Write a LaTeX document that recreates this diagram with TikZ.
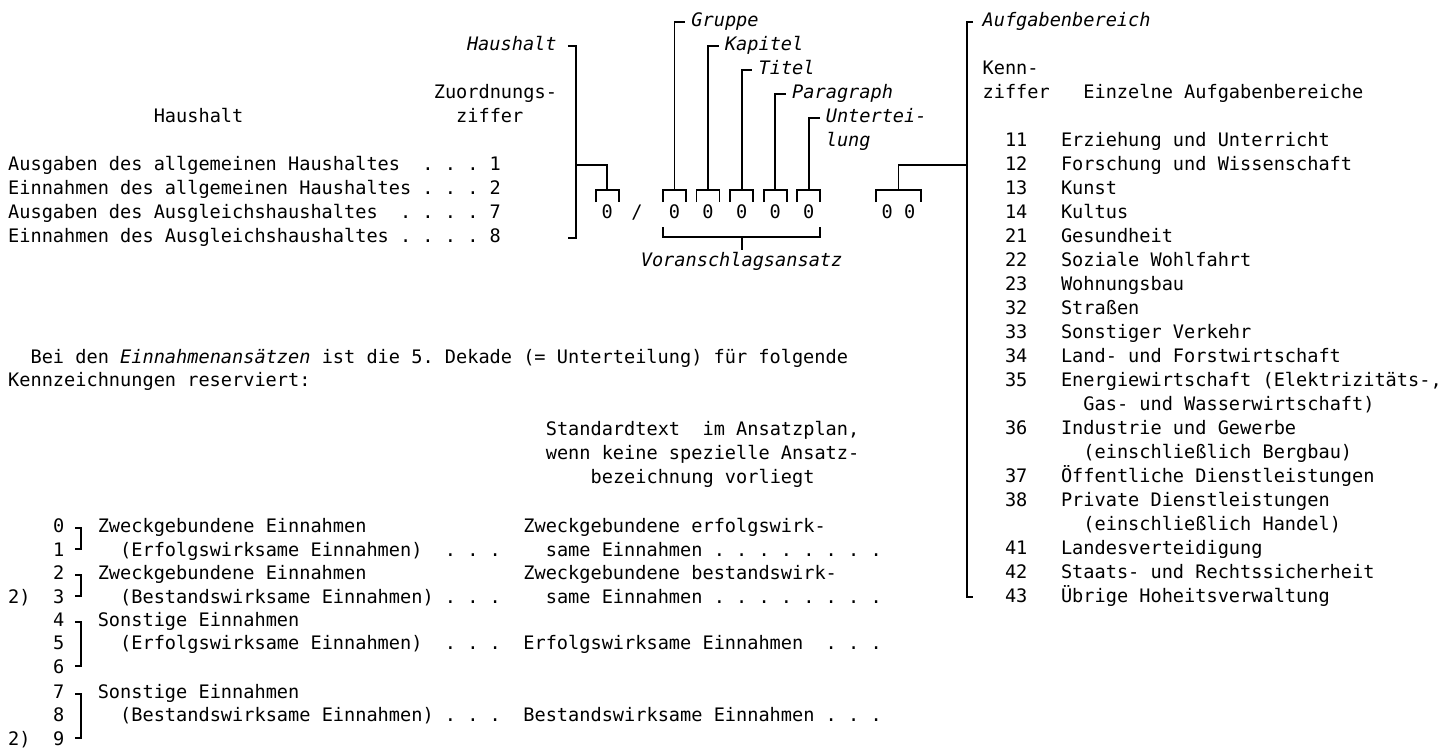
\documentclass[tikz,border=0pt]{standalone}
\usepackage{fontspec}
\setmonofont{DejaVu Sans Mono}
\usepackage{tikz}
\frenchspacing
\def\cc#1{(8+11.2*(#1))}

\begin{document}
\begin{tikzpicture}[x=1pt,y=-1pt,
  txt/.style={anchor=base west,inner sep=0pt,font=\ttfamily\fontsize{18.6}{22}\selectfont},
  kur/.style={txt,font=\ttfamily\itshape\fontsize{18.6}{22}\selectfont},
  ziff/.style={txt,anchor=base},
  strich/.style={line width=1.8pt}]
\useasboundingbox (0,0) rectangle (1442,749);

% Haushalt und Zuordnungsziffer
\node[txt] (hhkopf) at ({\cc{13}},122.8) {Haushalt};
\node[txt] (zokopf) at ({\cc{38}},98.8) {Zuordnungs-};
\node[txt] (zokopf2) at ({\cc{40}},122.8) {ziffer};
\node[txt] (hh1) at ({\cc{0}},170.8) {Ausgaben des allgemeinen Haushaltes~~. . . 1};
\node[txt] (hh2) at ({\cc{0}},194.8) {Einnahmen des allgemeinen Haushaltes . . . 2};
\node[txt] (hh3) at ({\cc{0}},218.8) {Ausgaben des Ausgleichshaushaltes~~. . . . 7};
\node[txt] (hh4) at ({\cc{0}},242.8) {Einnahmen des Ausgleichshaushaltes . . . . 8};

% Gliederung der Haushaltsstelle
\node[kur,anchor=base east] (lhh) at ({\cc{49}},50.8) {Haushalt};
\node[kur] (lgr) at ({\cc{61}},26.8) {Gruppe};
\node[kur] (lka) at ({\cc{64}},50.8) {Kapitel};
\node[kur] (lti) at ({\cc{67}},74.8) {Titel};
\node[kur] (lpa) at ({\cc{70}},98.8) {Paragraph};
\node[kur] (lun) at ({\cc{73}},122.8) {Untertei-};
\node[kur] (lun2) at ({\cc{73}},146.8) {lung};

\node[ziff] (z0) at ({\cc{53.5}},218.8) {0};
\node[ziff] (sl) at (637,218.8) {/};
\foreach \n/\c in {1/59.5,2/62.5,3/65.5,4/68.5,5/71.5}
  \node[ziff] (z\n) at ({\cc{\c}},218.8) {0};
\node[ziff] (za) at ({\cc{78.5}},218.8) {0};
\node[ziff] (zb) at ({\cc{80.5}},218.8) {0};
\node[kur,anchor=base] (vas) at ({\cc{65.5}},266.8) {Voranschlagsansatz};

\coordinate (hhfuss) at (576,238);
\coordinate (abfuss) at (967,597);

\draw[strich] ([xshift=11pt,yshift=4.5pt]lhh.base east) -| (hhfuss) -- ++(-8,0);
\draw[strich] (hhfuss |- 0,165) -| (z0 |- 0,190);
\foreach \c in {53.5,59.5,62.5,65.5,68.5,71.5}
  \draw[strich] ({\cc{\c}-11.5},202) -- ({\cc{\c}-11.5},190) -- ({\cc{\c}+11.5},190) -- ({\cc{\c}+11.5},202);
\draw[strich] ({\cc{78.5}-11.5},202) -- ({\cc{78.5}-11.5},190) -- ({\cc{80.5}+11.5},190) -- ({\cc{80.5}+11.5},202);
\foreach \k/\l in {z1/lgr,z2/lka,z3/lti,z4/lpa,z5/lun}
  \draw[strich] (\k |- 0,190) |- ([xshift=-6pt,yshift=4.5pt]\l.base west);
\draw[strich] ({\cc{59.5}-11.5},227) |- ({\cc{71.5}+11.5},237) -- ++(0,-10);
\draw[strich] (z3 |- 0,237) -- ([yshift=2pt]vas.north);
\draw[strich] ({\cc{79.5}},190) |- (abfuss |- 0,165);

% Aufgabenbereiche
\node[kur] (lab) at ({\cc{87}},26.8) {Aufgabenbereich};
\node[txt] (kz1) at ({\cc{87}},74.8) {Kenn-};
\node[txt] (kz2) at ({\cc{87}},98.8) {ziffer~~~Einzelne Aufgabenbereiche};
\foreach \z/\nr/\txt in {5/11/Erziehung und Unterricht,6/12/Forschung und Wissenschaft,
    7/13/Kunst,8/14/Kultus,9/21/Gesundheit,10/22/Soziale Wohlfahrt,11/23/Wohnungsbau,
    12/32/Straßen,13/33/Sonstiger Verkehr,14/34/Land- und Forstwirtschaft,
    15/35/{Energiewirtschaft (Elektrizitäts-,},16/{}/{~~Gas- und Wasserwirtschaft)},
    17/36/Industrie und Gewerbe,18/{}/{~~(einschließlich Bergbau)},
    19/37/Öffentliche Dienstleistungen,20/38/Private Dienstleistungen,
    21/{}/{~~(einschließlich Handel)},22/41/Landesverteidigung,
    23/42/Staats- und Rechtssicherheit,24/43/Übrige Hoheitsverwaltung}{
  \node[txt] (nr\z) at ({\cc{89}},{26.8+24*\z}) {\nr};
  \node[txt] (ab\z) at ({\cc{94}},{26.8+24*\z}) {\txt};
}
\draw[strich] ([xshift=-9.4pt,yshift=4.5pt]lab.base west) -| (abfuss) -- ++(6,0);

% Einnahmenansaetze
\node[txt] (bei) at ({\cc{2}},363.8) {Bei den \textit{Einnahmenansätzen} ist die 5. Dekade (= Unterteilung) für folgende};
\node[txt] (kennz) at ({\cc{0}},386.8) {Kennzeichnungen reserviert:};
\node[txt] (std1) at ({\cc{48}},435.8) {Standardtext~~im Ansatzplan,};
\node[txt] (std2) at ({\cc{48}},459.8) {wenn keine spezielle Ansatz-};
\node[txt] (std3) at ({\cc{52}},483.8) {bezeichnung vorliegt};

\foreach \d/\y in {0/532.8,1/556.2,2/579.6,3/603,4/626.4,5/649.8,6/673.2,7/698.3,8/721.7,9/745.1}
  \node[txt] (d\d) at ({\cc{4}},\y) {\d};
\node[txt] (fn1) at ({\cc{0}},603) {2)};
\node[txt] (fn2) at ({\cc{0}},745.1) {2)};

\node[txt] (e0) at ({\cc{8}},532.8) {Zweckgebundene Einnahmen};
\node[txt] (e1) at ({\cc{10}},556.2) {(Erfolgswirksame Einnahmen)~~. . .};
\node[txt] (e2) at ({\cc{8}},579.6) {Zweckgebundene Einnahmen};
\node[txt] (e3) at ({\cc{10}},603) {(Bestandswirksame Einnahmen) . . .};
\node[txt] (e4) at ({\cc{8}},626.4) {Sonstige Einnahmen};
\node[txt] (e5) at ({\cc{10}},649.8) {(Erfolgswirksame Einnahmen)~~. . .};
\node[txt] (e7) at ({\cc{8}},698.3) {Sonstige Einnahmen};
\node[txt] (e8) at ({\cc{10}},721.7) {(Bestandswirksame Einnahmen) . . .};

\node[txt] (s0) at ({\cc{46}},532.8) {Zweckgebundene erfolgswirk-};
\node[txt] (s1) at ({\cc{48}},556.2) {same Einnahmen . . . . . . . .};
\node[txt] (s2) at ({\cc{46}},579.6) {Zweckgebundene bestandswirk-};
\node[txt] (s3) at ({\cc{48}},603) {same Einnahmen . . . . . . . .};
\node[txt] (s5) at ({\cc{46}},649.8) {Erfolgswirksame Einnahmen~~. . .};
\node[txt] (s8) at ({\cc{46}},721.7) {Bestandswirksame Einnahmen . . .};

\foreach \a/\b in {0/1,2/3,4/6,7/9}
  \draw[strich] ([xshift=11pt,yshift=4.5pt]d\a.base east) -- ++(6,0) |- ([xshift=11pt,yshift=7pt]d\b.base east);
\end{tikzpicture}
\end{document}
